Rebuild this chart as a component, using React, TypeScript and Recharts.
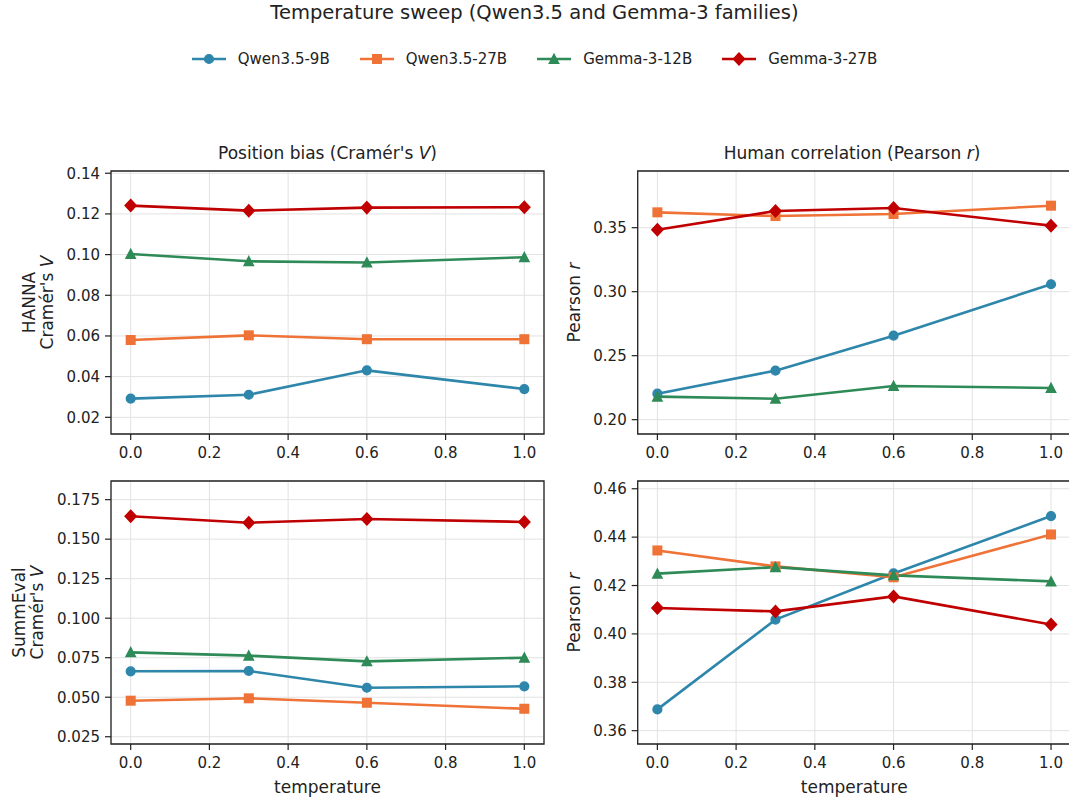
import React from "react";
import { CartesianGrid, Line, LineChart, ReferenceArea, XAxis, YAxis } from "recharts";

const temperatures = [0.0, 0.3, 0.6, 1.0];
const modelNames = ["Qwen3.5-9B", "Qwen3.5-27B", "Gemma-3-12B", "Gemma-3-27B"];
const modelColors = ["#2E86AB", "#EF7236", "#2E8B57", "#C00000"];
const modelShapes = ["circle", "square", "triangle", "diamond"];

// one row per model, in modelNames order, one value per temperature
const hannaCramerV = [
  [0.0292, 0.0311, 0.0431, 0.0339],
  [0.058, 0.0603, 0.0584, 0.0584],
  [0.1003, 0.0967, 0.0961, 0.0987],
  [0.1241, 0.1216, 0.1231, 0.1233],
];
const hannaPearson = [
  [0.2203, 0.2383, 0.2656, 0.3058],
  [0.362, 0.3591, 0.3607, 0.3672],
  [0.218, 0.2164, 0.2263, 0.2248],
  [0.3484, 0.363, 0.3654, 0.3516],
];
const summevalCramerV = [
  [0.0664, 0.0666, 0.056, 0.0569],
  [0.0478, 0.0493, 0.0465, 0.0427],
  [0.0784, 0.0763, 0.0727, 0.075],
  [0.1645, 0.1604, 0.1628, 0.1609],
];
const summevalPearson = [
  [0.3688, 0.4059, 0.425, 0.4487],
  [0.4345, 0.4279, 0.4234, 0.4411],
  [0.4249, 0.4276, 0.4242, 0.4217],
  [0.4107, 0.4093, 0.4155, 0.4039],
];

const xTicks = [0, 0.2, 0.4, 0.6, 0.8, 1.0];
const hannaVTicks = [0.02, 0.04, 0.06, 0.08, 0.1, 0.12, 0.14];
const hannaRTicks = [0.2, 0.25, 0.3, 0.35];
const summVTicks = [0.025, 0.05, 0.075, 0.1, 0.125, 0.15, 0.175];
const summRTicks = [0.36, 0.38, 0.4, 0.42, 0.44, 0.46];

const xDomain = [-0.05, 1.05];
const hannaVDomain = [0.0118, 0.1411];
const hannaRDomain = [0.1888, 0.3943];
const summVDomain = [0.0204, 0.1868];
const summRDomain = [0.3545, 0.4632];

const FONT = "DejaVu Sans";
const INK = "#222";
const PLOT_W = 433;
const PLOT_H = 263;

function Marker({ cx, cy, shape, color }: { cx?: number; cy?: number; shape: string; color: string }) {
  if (cx == null || cy == null) return null;
  const common = { fill: color, stroke: color, strokeWidth: 1.4, strokeLinejoin: "miter" as const };
  if (shape === "circle") return <circle cx={cx} cy={cy} r={4.4} {...common} />;
  if (shape === "square") return <rect x={cx - 4.3} y={cy - 4.3} width={8.6} height={8.6} {...common} />;
  if (shape === "triangle")
    return <polygon points={`${cx},${cy - 4.7} ${cx - 4.7},${cy + 4.3} ${cx + 4.7},${cy + 4.3}`} {...common} />;
  return <polygon points={`${cx},${cy - 6} ${cx + 5.6},${cy} ${cx},${cy + 6} ${cx - 5.6},${cy}`} {...common} />;
}

type PanelProps = {
  values: number[][];
  yDomain: number[];
  yTicks: number[];
  digits: number;
  left: number;
  top: number;
  width: number;
  height: number;
  plotLeft: number;
  plotTop: number;
  xAxisHeight: number;
};

function Panel({ values, yDomain, yTicks, digits, left, top, width, height, plotLeft, plotTop, xAxisHeight }: PanelProps) {
  const rows = temperatures.map((t, i) => {
    const row: Record<string, number> = { t };
    values.forEach((series, k) => {
      row[`m${k}`] = series[i];
    });
    return row;
  });
  return (
    <div style={{ position: "absolute", left, top }}>
      <LineChart
        width={width}
        height={height}
        data={rows}
        margin={{
          top: plotTop,
          right: width - plotLeft - PLOT_W,
          bottom: height - plotTop - PLOT_H - xAxisHeight,
          left: 0,
        }}
      >
        <CartesianGrid stroke="#e2e2e2" strokeWidth={1} />
        <XAxis
          dataKey="t"
          type="number"
          domain={xDomain}
          ticks={xTicks}
          interval={0}
          allowDataOverflow
          height={xAxisHeight}
          axisLine={false}
          tickSize={6}
          tickMargin={7}
          tickLine={{ stroke: INK, strokeWidth: 1.2 }}
          tick={{ fill: INK, fontSize: 15, fontFamily: FONT }}
          tickFormatter={(v: number) => v.toFixed(1)}
        />
        <YAxis
          type="number"
          domain={yDomain}
          ticks={yTicks}
          interval={0}
          allowDataOverflow
          width={plotLeft}
          axisLine={false}
          tickSize={6}
          tickMargin={5}
          tickLine={{ stroke: INK, strokeWidth: 1.2 }}
          tick={{ fill: INK, fontSize: 15, fontFamily: FONT }}
          tickFormatter={(v: number) => v.toFixed(digits)}
        />
        {modelNames.map((name, k) => (
          <Line
            key={name}
            dataKey={`m${k}`}
            name={name}
            type="linear"
            stroke={modelColors[k]}
            strokeWidth={2.6}
            isAnimationActive={false}
            activeDot={false}
            dot={(p: any) => (
              <Marker key={`${name}-${p.index}`} cx={p.cx} cy={p.cy} shape={modelShapes[k]} color={modelColors[k]} />
            )}
          />
        ))}
        <ReferenceArea
          x1={xDomain[0]}
          x2={xDomain[1]}
          y1={yDomain[0]}
          y2={yDomain[1]}
          fill="none"
          fillOpacity={0}
          stroke={INK}
          strokeWidth={1.3}
          ifOverflow="visible"
        />
      </LineChart>
    </div>
  );
}

function LegendRow() {
  return (
    <div
      style={{
        position: "absolute",
        left: 0,
        top: 49,
        width: 1069,
        height: 20,
        display: "flex",
        justifyContent: "center",
        alignItems: "center",
        gap: 30,
        fontFamily: FONT,
        fontSize: 15,
        color: INK,
      }}
    >
      {modelNames.map((name, k) => (
        <div key={name} style={{ display: "flex", alignItems: "center" }}>
          <svg width={34} height={16} style={{ marginRight: 12 }}>
            <line x1={0} y1={8} x2={34} y2={8} stroke={modelColors[k]} strokeWidth={2.6} />
            <Marker cx={17} cy={8} shape={modelShapes[k]} color={modelColors[k]} />
          </svg>
          <span style={{ whiteSpace: "nowrap" }}>{name}</span>
        </div>
      ))}
    </div>
  );
}

function StackedYLabel({ x, y, first, spacing }: { x: number; y: number; first?: string; spacing: number }) {
  return (
    <text transform={`translate(${x},${y}) rotate(-90)`} textAnchor="middle" fontSize={17} fontFamily={FONT} fill={INK}>
      {first ? (
        <>
          <tspan x={0} y={-spacing}>
            {first}
          </tspan>
          <tspan x={0} y={0}>
            Cramér's <tspan fontStyle="italic">V</tspan>
          </tspan>
        </>
      ) : (
        <tspan x={0} y={0}>
          Pearson <tspan fontStyle="italic">r</tspan>
        </tspan>
      )}
    </text>
  );
}

export default function App() {
  const leftPlotX = 111;
  const rightPlotX = 637.7;
  const leftCenter = leftPlotX + PLOT_W / 2;
  const rightCenter = rightPlotX + PLOT_W / 2;
  return (
    <div
      style={{
        position: "absolute",
        left: 0,
        top: 0,
        width: 1069,
        height: 802,
        overflow: "hidden",
        background: "#fff",
      }}
    >
      <Panel values={hannaCramerV} yDomain={hannaVDomain} yTicks={hannaVTicks} digits={2}
        left={0} top={140} width={560} height={339} plotLeft={leftPlotX} plotTop={31} xAxisHeight={45} />
      <Panel values={hannaPearson} yDomain={hannaRDomain} yTicks={hannaRTicks} digits={2}
        left={540} top={140} width={531} height={339} plotLeft={rightPlotX - 540} plotTop={31} xAxisHeight={45} />
      <Panel values={summevalCramerV} yDomain={summVDomain} yTicks={summVTicks} digits={3}
        left={0} top={455} width={560} height={347} plotLeft={leftPlotX} plotTop={26} xAxisHeight={58} />
      <Panel values={summevalPearson} yDomain={summRDomain} yTicks={summRTicks} digits={2}
        left={540} top={455} width={531} height={347} plotLeft={rightPlotX - 540} plotTop={26} xAxisHeight={58} />

      <LegendRow />

      <svg width={1069} height={802} style={{ position: "absolute", left: 0, top: 0, pointerEvents: "none" }}>
        <text x={534.5} y={19} textAnchor="middle" fontSize={19.5} fontFamily={FONT} fill={INK}>
          Temperature sweep (Qwen3.5 and Gemma-3 families)
        </text>
        <text x={leftCenter} y={158.5} textAnchor="middle" fontSize={17} fontFamily={FONT} fill={INK}>
          Position bias (Cramér's <tspan fontStyle="italic">V</tspan>)
        </text>
        <text x={852} y={158.5} textAnchor="middle" fontSize={17} fontFamily={FONT} fill={INK}>
          Human correlation (Pearson <tspan fontStyle="italic">r</tspan>)
        </text>
        <StackedYLabel x={53} y={302.5} first="HANNA" spacing={18.5} />
        <StackedYLabel x={43} y={612.5} first="SummEval" spacing={18.5} />
        <StackedYLabel x={580} y={302.5} spacing={0} />
        <StackedYLabel x={580} y={612.5} spacing={0} />
        <text x={leftCenter} y={793} textAnchor="middle" fontSize={17} fontFamily={FONT} fill={INK}>
          temperature
        </text>
        <text x={rightCenter} y={793} textAnchor="middle" fontSize={17} fontFamily={FONT} fill={INK}>
          temperature
        </text>
      </svg>
    </div>
  );
}
